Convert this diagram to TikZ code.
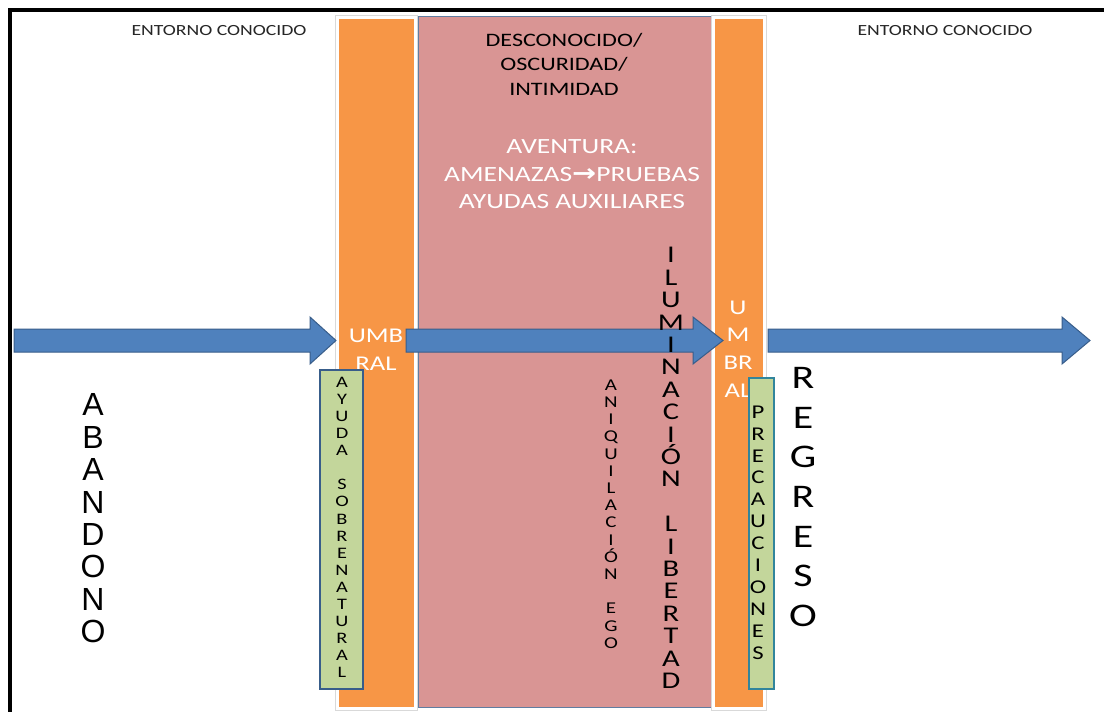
\documentclass[tikz,border=0pt]{standalone}
\usepackage{fontspec}
\setmainfont{Carlito}[FakeStretch=1.27]
\newfontfamily\arialfont{Liberation Sans}
\newfontfamily\flechafont{DejaVu Sans}[FakeStretch=1.2]
\usetikzlibrary{positioning}
\definecolor{naranja}{HTML}{F79646}
\definecolor{rosa}{HTML}{D99594}
\definecolor{azulflecha}{HTML}{4F81BD}
\definecolor{bordeflecha}{HTML}{385D8A}
\definecolor{verde}{HTML}{C3D69B}
\definecolor{bordeprec}{HTML}{31859C}
\newcommand{\flechabloque}[3]{%
  \draw[flecha] (#1,329) -- (#2,329) -- (#2,317) -- (#3,340.5) -- (#2,364) -- (#2,352) -- (#1,352) -- cycle;}

\begin{document}
\begin{tikzpicture}[x=1pt,y=-1pt,
  barra/.style={rectangle,fill=naranja,preaction={draw=black!15,line width=4.2pt},
    draw=white,line width=3pt,inner sep=0pt,minimum height=691pt},
  zona/.style={rectangle,fill=rosa,draw=bordeflecha!80,line width=1pt,inner sep=0pt},
  caja/.style={rectangle,fill=verde,line width=2pt,inner sep=0pt},
  flecha/.style={fill=azulflecha,draw=bordeflecha,line width=1pt,line join=miter},
  letras/.style={align=center,inner sep=0pt},
  entorno/.style={inner sep=0pt,text=black!85,font=\fontsize{15.5}{18}\selectfont},
  titulo/.style={letras,font=\fontsize{19}{24.5}\selectfont},
  aventura/.style={letras,text=white,font=\fontsize{21.7}{27.5}\selectfont},
  umbraltxt/.style={letras,text=white,font=\fontsize{21}{27.8}\selectfont}]
\useasboundingbox (0,0) rectangle (1104,712);
\fill[white] (0,0) rectangle (1104,712);
% marco
\draw[line width=4pt] (10,712) -- (10,10) -- (1104,10);

% zonas
\node[zona,minimum width=293pt,minimum height=691pt] (desconocida) at (564.5,361.5) {};
\node[barra,minimum width=78pt] (umbralA) at (376.5,363) {};
\node[barra,minimum width=51pt] (umbralB) at (739,363) {};

\node[entorno] (entornoA) at (219,31) {ENTORNO CONOCIDO};
\node[entorno] (entornoB) at (945,31) {ENTORNO CONOCIDO};
\node[titulo] (oscuridad) at (564,64) {DESCONOCIDO/\\OSCURIDAD/\\INTIMIDAD};
\node[aventura] (pruebas) at (572,174.5) {AVENTURA:\\AMENAZAS{\flechafont\bfseries\fontsize{24}{24}\selectfont →}PRUEBAS\\AYUDAS AUXILIARES};
\node[umbraltxt] (umbtxtA) at (376,350) {UMB\\RAL};
\node[umbraltxt] (umbtxtB) at (738,349) {U\\M\\BR\\AL};

% flechas
\flechabloque{14}{310}{336}
\flechabloque{406}{693}{723}
\flechabloque{768}{1062}{1090}

% cajas verdes
\node[caja,draw=bordeflecha,minimum width=43pt,minimum height=319pt] (ayuda) at (341.5,529.5) {};
\node[letras,font=\fontsize{16}{17.1}\selectfont] (ayudatxt) at (342,527.5)
  {A\\Y\\U\\D\\A\\ \\S\\O\\B\\R\\E\\N\\A\\T\\U\\R\\A\\L};
\node[caja,draw=bordeprec,minimum width=25pt,minimum height=311pt] (precauciones) at (761.5,533.5) {};
\node[letras,font=\fontsize{19.5}{21.9}\selectfont] (prectxt) at (758,532.5)
  {P\\R\\E\\C\\A\\U\\C\\I\\O\\N\\E\\S};

% textos verticales
\node[letras,font=\fontsize{16.5}{17.2}\selectfont] (ego) at (611,514)
  {A\\N\\I\\Q\\U\\I\\L\\A\\C\\I\\Ó\\N\\ \\E\\G\\O};
\node[letras,font=\fontsize{24}{22.4}\selectfont] (libertad) at (671,468)
  {I\\L\\U\\M\\I\\N\\A\\C\\I\\Ó\\N\\ \\L\\I\\B\\E\\R\\T\\A\\D};
\node[letras,font=\arialfont\fontsize{32}{32.4}\selectfont] (abandono) at (93,518.5)
  {A\\B\\A\\N\\D\\O\\N\\O};
\node[letras,font=\fontsize{33}{39.7}\selectfont] (regreso) at (803,497)
  {R\\E\\G\\R\\E\\S\\O};
\end{tikzpicture}
\end{document}
